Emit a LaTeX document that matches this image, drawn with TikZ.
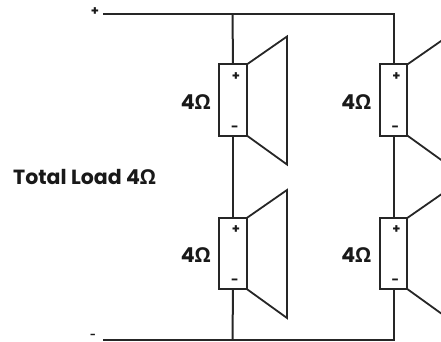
\documentclass[tikz,border=0pt]{standalone}
\usepackage{fontspec}
\setmainfont{Poppins}
\newfontfamily\omegafont{Open Sans}
\newcommand{\ohm}{{\omegafont\bfseries Ω}}
\tikzset{
  x=1pt,y=-1pt,
  wire/.style={draw=black!85,line width=2pt,line cap=butt,line join=miter},
  spkbox/.style={draw=black!85,line width=2pt,fill=white,minimum width=27.5pt,minimum height=71pt,inner sep=0pt,outer sep=0pt},
  horn/.style={draw=black!85,line width=1.8pt,line join=miter},
  valuelabel/.style={font=\fontsize{20.5}{22}\selectfont\bfseries,text=black!90,inner sep=0pt},
  polarity/.style={font=\fontsize{13}{14}\selectfont\bfseries,text=black!90,inner sep=0pt}
}
\begin{document}
\begin{tikzpicture}
\useasboundingbox (0,0) rectangle (441,342);
\clip (0,0) rectangle (441,342);
% rails
\coordinate (topstart) at (103,14);
\coordinate (botstart) at (103,339.5);
\coordinate (t1) at (232.5,14);
\coordinate (t2) at (393.5,14);
\coordinate (b1) at (232.5,339.5);
\coordinate (b2) at (393.5,339.5);
% boxes
\node[spkbox] (s1) at (233,100) {};
\node[spkbox] (s2) at (233,253.5) {};
\node[spkbox] (s3) at (393.5,100) {};
\node[spkbox] (s4) at (393.5,253.5) {};
% horns
\coordinate (h1a) at (287,36.5);\coordinate (h1b) at (287,164.5);
\coordinate (h2a) at (287,190);\coordinate (h2b) at (287,318);
\coordinate (h3a) at (447.5,36.5);\coordinate (h3b) at (447.5,164.5);
\coordinate (h4a) at (447.5,190);\coordinate (h4b) at (447.5,318);
\foreach \s/\h in {s1/h1,s2/h2,s3/h3,s4/h4}{
  \draw[horn] (\s.north east) -- (\h a) -- (\h b) -- (\s.south east);
}
% wiring
\draw[wire] (topstart) -- (t2) -- (s3.north);
\draw[wire] (t1) -- (s1.north);
\draw[wire] (s1.south) -- (s2.north);
\draw[wire] (s3.south) -- (s4.north);
\draw[wire] (botstart) -- (b2) -- (s4.south);
\draw[wire] (b1) -- (s2.south);
% labels
\node[polarity] (ptop) at (95,12) {+};
\node[polarity,font=\fontsize{10}{11}\selectfont\bfseries,anchor=base] (pbot) at (93,338) {-};
\foreach \s/\n in {s1/a,s2/b,s3/c,s4/d}{
  \node[polarity] (plus\n) at ([xshift=3pt,yshift=23.5pt]\s.center) {+};
  \node[polarity] (minus\n) at ([xshift=2pt,yshift=-28.5pt]\s.center) {-};
}
\node[valuelabel,anchor=east] (v1) at (211,102) {4\ohm};
\node[valuelabel,anchor=east] (v2) at (211,255.5) {4\ohm};
\node[valuelabel,anchor=east] (v3) at (371.5,102) {4\ohm};
\node[valuelabel,anchor=east] (v4) at (371.5,255.5) {4\ohm};
\node[valuelabel,anchor=west] (total) at (13,177) {Total Load 4\ohm};
\end{tikzpicture}
\end{document}
